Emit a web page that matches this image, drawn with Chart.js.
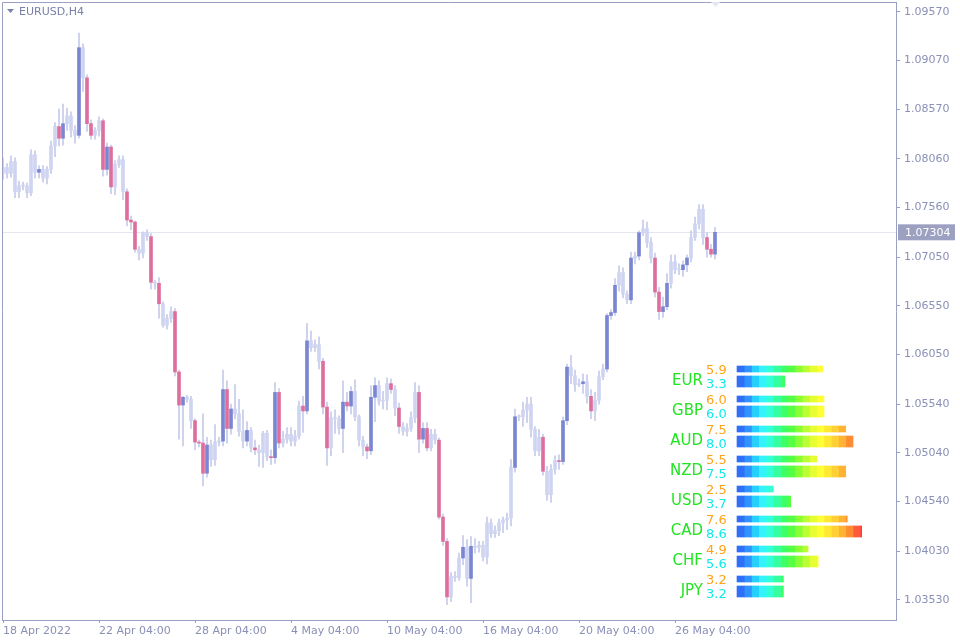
<!DOCTYPE html>
<html><head><meta charset="utf-8">
<script src="https://cdn.jsdelivr.net/npm/chart.js@4/dist/chart.umd.min.js"></script>
<style>
html,body{margin:0;padding:0;background:#fff;}
#wrap{position:relative;width:960px;height:640px;}
#main{position:absolute;left:0;top:0;}
#cs{position:absolute;left:660px;top:355px;}
</style></head><body>
<div id="wrap"><canvas id="main" width="960" height="640"></canvas><canvas id="cs" width="210" height="250"></canvas></div>
<script>
// Close prices in pips (price * 10000)
const closes = [
10797,10791,10803,10772,10778,10778,10771,10810,10792,10795,
10786,10795,10819,10839,10827,10842,10850,10835,10830,10920,
10889,10842,10830,10835,10845,10795,10818,10777,10800,10805,
10772,10743,10741,10713,10709,10730,10726,10679,10678,10657,
10635,10642,10649,10587,10553,10561,10559,10537,10515,10514,
10483,10512,10497,10515,10516,10569,10529,10549,10544,10526,
10516,10527,10509,10507,10504,10524,10500,10499,10566,10514,
10518,10523,10516,10521,10552,10547,10619,10612,10615,10598,
10551,10509,10540,10539,10529,10556,10552,10567,10541,10517,
10510,10506,10561,10573,10557,10558,10575,10569,10550,10531,
10526,10529,10540,10566,10518,10529,10509,10523,10517,10438,
10413,10356,10377,10376,10396,10407,10375,10408,10407,10409,
10397,10432,10421,10424,10432,10435,10437,10489,10541,10541,
10548,10554,10528,10506,10520,10485,10461,10487,10496,10495,
10537,10592,10583,10574,10575,10577,10562,10547,10558,10582,
10590,10645,10648,10676,10689,10667,10661,10704,10706,10730,
10734,10720,10704,10669,10649,10654,10678,10700,10692,10692,
10697,10704,10725,10739,10754,10725,10713,10708,10730.4];
const firstOpen = 10791;
// wick extension above body / below body, pips
const upWick = [
10,4,6,4,5,4,3,5,4,4, 4,3,5,4,18,20,8,4,5,15, 4,3,4,3,4,2,4,2,4,4,
4,3,4,1,3,1,3,3,2,6, 2,4,5,3,2,1,2,3,2,2, 30,8,5,18,4,20,9,5,25,15,
22,9,3,8,5,2,3,7,10,4, 8,7,7,6,5,10,18,10,5,8, 3,5,6,8,3,22,10,5,12,2,
4,3,12,8,5,9,6,5,4,5, 4,5,6,10,7,6,6,5,5,2, 3,3,4,5,5,12,8,10,8,4,
4,6,4,5,4,3,5,8,8,2, 8,7,7,3,8,3,5,5,5,6, 4,3,12,6,5,8,7,7,8,6,
5,2,3,7,7,5,3,6,4,2, 9,7,5,5,5,10,10,7,7,6, 4,3,7,7,5,5,5,5,5];
const downWick = [
6,5,4,6,6,4,5,3,6,6, 4,6,4,11,8,7,7,7,8,3, 14,8,4,4,6,7,6,7,8,3,
8,6,8,3,7,5,4,7,6,15, 2,4,4,4,35,42,3,8,8,4, 13,4,7,6,4,5,15,6,5,5,
7,5,4,5,14,15,4,7,6,5, 4,4,5,5,3,22,3,4,4,8, 7,18,8,15,6,25,5,8,4,6,
9,8,4,25,4,8,10,4,8,7, 4,5,3,5,14,4,3,3,4,2, 4,8,5,4,3,7,8,25,6,5,
4,7,4,4,5,10,10,8,5,4, 10,13,8,5,5,4,6,8,5,8, 3,4,8,7,2,10,7,8,10,4,
3,3,4,3,6,4,4,4,6,4, 3,5,5,5,8,6,3,5,4,5, 7,7,4,3,5,7,8,3,5];
// candles highlighted by the indicator
const markedBars = [9,14,15,19,21,22,25,26,27,31,32,33,37,39,43,44,45,48,49,50,51,55,56,57,61,63,67,68,69,75,76,80,81,85,86,87,91,92,93,97,99,104,105,106,109,110,111,115,117,128,135,139,140,141,145,147,151,152,153,157,159,163,164,165,166,170,171,176,177,178];
const xTickIdx = [0,24,48,72,96,120,144,168];
const xTickLabels = ['18 Apr 2022','22 Apr 04:00','28 Apr 04:00','4 May 04:00','10 May 04:00','16 May 04:00','20 May 04:00','26 May 04:00'];
const yTicks = [1.0957,1.0907,1.0857,1.0806,1.0756,1.0705,1.0655,1.0605,1.0554,1.0504,1.0454,1.0403,1.0353];
const lastPrice = 1.07304;

const currencies = ['EUR','GBP','AUD','NZD','USD','CAD','CHF','JPY'];
const strengthA = [5.9,6.0,7.5,5.5,2.5,7.6,4.9,3.2];
const strengthB = [3.3,6.0,8.0,7.5,3.7,8.6,5.6,3.2];
const segColors = ['#2f6ff7','#2f93ff','#27cfff','#33f3ff','#33ffd6','#33ffa0','#3dff66','#55ff44','#88ff33','#bbff33','#e6ff33','#ffff33','#ffe733','#ffd033','#ffb233','#ff8c33','#ff5a3a','#ff3a44'];

const BLUE='#7b86d2', PINK='#de6f9d', LIGHT='#cfd4f1', WLIGHT='#c6cbe8';
const opens = closes.map((c,i)=> i===0 ? firstOpen : closes[i-1]);
const marked = new Set(markedBars);
const colorOf = i => marked.has(i) ? (closes[i]>=opens[i]?BLUE:PINK) : LIGHT;
const bodies = closes.map((c,i)=>({x:i,y:[opens[i]/1e4,c/1e4]}));
const wicks = closes.map((c,i)=>({x:i,y:[(Math.min(c,opens[i])-downWick[i])/1e4,(Math.max(c,opens[i])+upWick[i])/1e4]}));

const FONT = 'DejaVu Sans';
const deco = {
  id:'deco',
  beforeDatasetsDraw(ch){
    const {ctx,chartArea:a,scales:{y}}=ch;
    const py=Math.round(y.getPixelForValue(lastPrice))+0.5;
    ctx.save();ctx.strokeStyle='#e3e5ef';ctx.lineWidth=1;
    ctx.beginPath();ctx.moveTo(a.left,py);ctx.lineTo(a.right,py);ctx.stroke();ctx.restore();
  },
  afterDraw(ch){
    const {ctx,chartArea:a,scales:{y}}=ch;
    ctx.save();
    ctx.strokeStyle='#9aa0c4';ctx.lineWidth=1;
    ctx.beginPath();ctx.moveTo(a.left+0.5,a.bottom);ctx.lineTo(a.left+0.5,a.top+0.5);ctx.lineTo(a.right,a.top+0.5);ctx.stroke();
    const py=y.getPixelForValue(lastPrice);
    ctx.fillStyle='#9da1c1';ctx.fillRect(a.right+2,py-8,57,16);
    ctx.fillStyle='#fff';ctx.font='11px "'+FONT+'"';ctx.textBaseline='middle';ctx.textAlign='left';
    ctx.fillText(lastPrice.toFixed(5),a.right+9,py+0.5);
    ctx.fillStyle='#7a80a8';ctx.font='11px "'+FONT+'"';
    ctx.beginPath();ctx.moveTo(7,9);ctx.lineTo(14,9);ctx.lineTo(10.5,13);ctx.closePath();ctx.fill();
    ctx.fillText('EURUSD,H4',19,12);
    ctx.fillStyle='#e4e6f3';ctx.beginPath();ctx.moveTo(711,2);ctx.lineTo(720,2);ctx.lineTo(715.5,7);ctx.closePath();ctx.fill();
    ctx.restore();
  }
};

new Chart(document.getElementById('main'),{
  type:'bar',
  data:{datasets:[
    {data:wicks,backgroundColor:WLIGHT,barThickness:1,grouped:false,order:2},
    {data:bodies,backgroundColor:bodies.map((d,i)=>colorOf(i)),barThickness:3,grouped:false,minBarLength:1,order:1}
  ]},
  options:{
    responsive:false,animation:false,devicePixelRatio:1,
    layout:{padding:{left:2,top:2,right:0,bottom:0}},
    plugins:{legend:{display:false},tooltip:{enabled:false}},
    scales:{
      x:{type:'linear',min:-0.25,max:223.25,offset:false,
        afterFit(s){s.height=20;s.paddingLeft=0;s.paddingRight=0;},
        afterBuildTicks(s){s.ticks=xTickIdx.map(v=>({value:v}));},
        ticks:{align:'start',maxRotation:0,autoSkip:false,color:'#8a90b6',font:{family:FONT,size:11},padding:2,
          callback:(v)=>xTickLabels[xTickIdx.indexOf(v)]},
        grid:{display:true,drawOnChartArea:false,tickLength:3,color:'#9aa0c4',offset:false},
        border:{display:true,color:'#9aa0c4'}},
      y:{type:'linear',position:'right',min:1.03323,max:1.09669,offset:false,
        afterFit(s){s.width=64;s.paddingTop=0;s.paddingBottom=0;},
        afterBuildTicks(s){s.ticks=yTicks.map(v=>({value:v}));},
        ticks:{color:'#8a90b6',font:{family:FONT,size:11},padding:4,callback:v=>v.toFixed(5)},
        grid:{display:true,drawOnChartArea:false,tickLength:4,color:'#9aa0c4'},
        border:{display:true,color:'#9aa0c4'}}
    }
  },
  plugins:[deco]
});

// currency strength panel
const rowTop = r => r*30+14, rowBot = r => r*30+26.5;
const csSets=[];
segColors.forEach((col,k)=>{
  const mk=(vals,pos,th)=>({data:vals.map((v,r)=>v>k*0.5?{x:[k*0.5,Math.min(v,k*0.5+0.5)],y:pos(r)}:null).filter(Boolean),
    backgroundColor:col,borderWidth:0,barThickness:th,grouped:false});
  csSets.push(mk(strengthA,rowTop,6));
  csSets.push(mk(strengthB,rowBot,11));
});
const csText={id:'cstext',afterDatasetsDraw(ch){
  const {ctx,scales:{y}}=ch;ctx.save();ctx.textBaseline='middle';
  currencies.forEach((c,r)=>{
    const yt=y.getPixelForValue(rowTop(r)), yb=y.getPixelForValue(rowBot(r));
    ctx.font='15px "'+FONT+'"';ctx.fillStyle='#22e522';ctx.textAlign='right';
    ctx.fillText(c,43,yb-0.5);
    ctx.font='13px "'+FONT+'"';ctx.textAlign='left';
    ctx.fillStyle='#ffa31a';ctx.fillText(strengthA[r].toFixed(1),46,yt+1.5);
    ctx.fillStyle='#11e8f0';ctx.fillText(strengthB[r].toFixed(1),46,yb+3);
  });ctx.restore();}};
new Chart(document.getElementById('cs'),{
  type:'bar',data:{datasets:csSets},
  options:{indexAxis:'y',responsive:false,animation:false,devicePixelRatio:1,
    layout:{padding:0},plugins:{legend:{display:false},tooltip:{enabled:false}},
    scales:{x:{type:'linear',min:-77/14.5,max:133/14.5,display:false,offset:false},
            y:{type:'linear',min:0,max:250,reverse:true,display:false,offset:false}}},
  plugins:[csText]
});
</script></body></html>
